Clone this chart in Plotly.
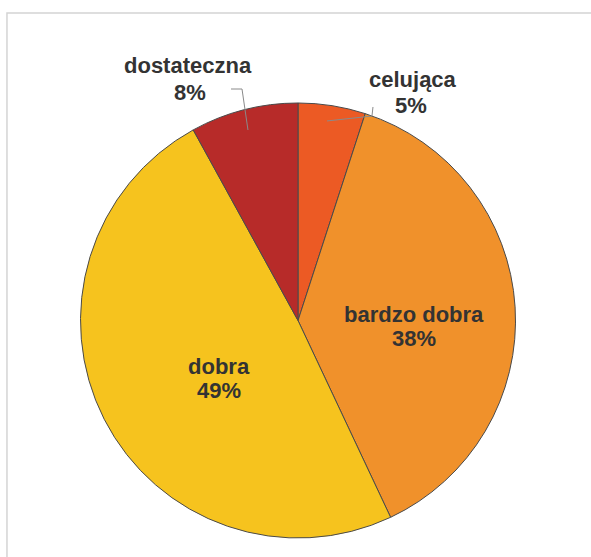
import plotly.graph_objects as go

labels = ['celująca', 'bardzo dobra', 'dobra', 'dostateczna']
values = [5, 38, 49, 8]
colors = ['#EC5A24', '#F0912B', '#F6C31E', '#B72B29']

W, H = 591, 557
FONT = dict(family='Liberation Sans, Arial', size=22, color='#333333')

fig = go.Figure(go.Pie(
    labels=labels,
    values=values,
    sort=False,
    direction='clockwise',
    rotation=0,
    marker=dict(colors=colors, line=dict(color='#4a4a4a', width=1)),
    textinfo='none',
    hoverinfo='label+percent',
    domain=dict(x=[0.1354, 0.8731], y=[0.0341, 0.8151]),
    showlegend=False,
))

# label anchor points in pixels (name line centre, percent line centre)
label_px = {
    'celująca': ((413, 80), (411, 105)),
    'bardzo dobra': ((414, 314), (414, 338)),
    'dobra': ((219, 366), (219, 390)),
    'dostateczna': ((188, 65), (190, 92)),
}

ann = []
for lab, val in zip(labels, values):
    (x1, y1), (x2, y2) = label_px[lab]
    for (x, y), txt in (((x1, y1), lab), ((x2, y2), '%d%%' % val)):
        ann.append(dict(x=x / W, y=1 - y / H, xref='paper', yref='paper',
                        xanchor='center', yanchor='middle', showarrow=False,
                        text='<b>%s</b>' % txt, font=FONT))


def px_path(pts):
    return 'M ' + ' L '.join('%.4f %.4f' % (x / W, 1 - y / H) for x, y in pts)


frame = dict(color='#d4d4d4', width=1.5)
leader = dict(color='#8a8a8a', width=1)

fig.update_layout(
    width=W, height=H,
    margin=dict(l=0, r=0, t=0, b=0),
    paper_bgcolor='white',
    annotations=ann,
    shapes=[
        # light frame: left and top edges only
        dict(type='path', xref='paper', yref='paper',
             path=px_path([(7, H), (7, 13), (W, 13)]), line=frame),
        # leader line for dostateczna
        dict(type='path', xref='paper', yref='paper',
             path=px_path([(231, 89), (242, 89), (248, 130)]), line=leader),
        # leader line for celująca
        dict(type='path', xref='paper', yref='paper',
             path=px_path([(327, 121), (372, 116), (373, 107)]), line=leader),
    ],
)

fig.write_html('out.html', config={'displayModeBar': False},
               post_script="document.body.style.margin='0';"
                           "document.body.style.overflow='hidden';"
                           "document.documentElement.style.overflow='hidden';")
